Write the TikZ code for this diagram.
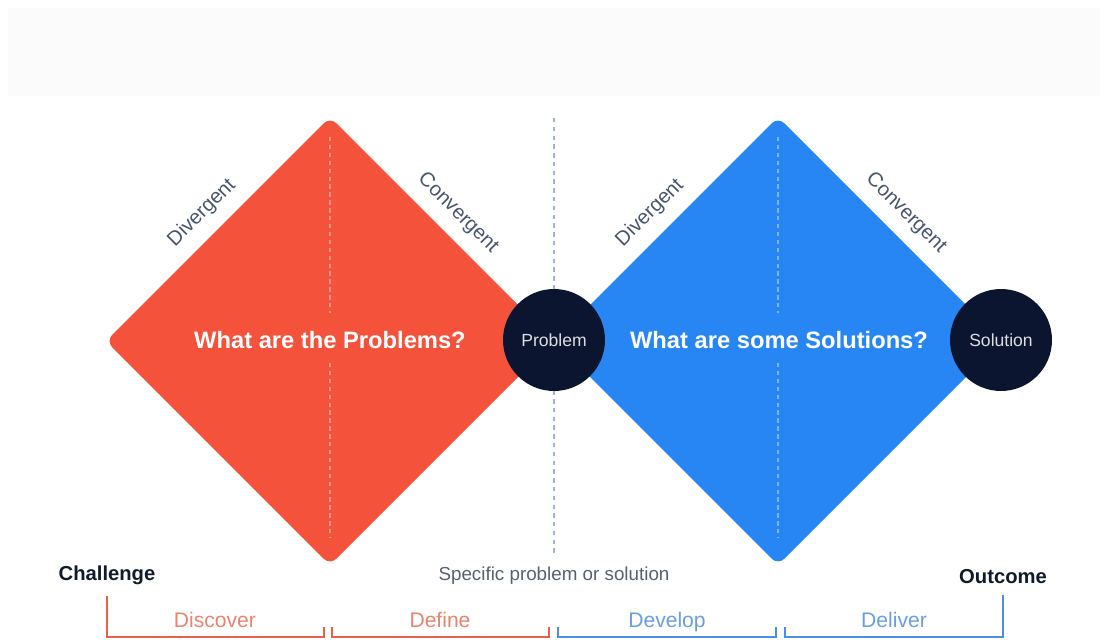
\documentclass[tikz,border=0pt]{standalone}
\usepackage{fontspec}
\setmainfont{Liberation Sans}
\usetikzlibrary{calc}
\definecolor{probred}{HTML}{F4523B}
\definecolor{solblue}{HTML}{2886F4}
\definecolor{hubnavy}{HTML}{0B1530}
\definecolor{edgetext}{HTML}{48546E}
\definecolor{guide}{HTML}{9DB3D3}
\definecolor{redline}{HTML}{E9614C}
\definecolor{blueline}{HTML}{4A8FE6}
\definecolor{redlabel}{HTML}{E8836F}
\definecolor{bluelabel}{HTML}{6A9EE2}
\definecolor{darktext}{HTML}{111A2C}
\definecolor{greytext}{HTML}{56606F}
\definecolor{band}{HTML}{FBFBFB}

\begin{document}
\begin{tikzpicture}[x=0.02cm,y=-0.02cm,
    hub/.style={circle,fill=hubnavy,minimum size=2.04cm,inner sep=0pt,text=white!86!hubnavy,font=\fontsize{10}{12}\selectfont},
    question/.style={text=white,font=\bfseries\fontsize{13.5}{16}\selectfont},
    phase/.style={sloped,above=4pt,text=edgetext,font=\fontsize{11.5}{13}\selectfont},
    milestone/.style={anchor=base,text=darktext,font=\bfseries\fontsize{11.5}{14}\selectfont},
    steplabel/.style={anchor=base,font=\fontsize{12}{14}\selectfont},
    bracket/.style={line width=1.2pt,line join=miter},
    inner/.style={white,opacity=.4,line width=.6pt,dash pattern=on 2.5pt off 2pt}]
  \useasboundingbox (0,0) rectangle (1106,642);
  \fill[band] (8,8) rectangle (1100,96);

  % corners of the two diamonds
  \coordinate (pT) at (330,117);
  \coordinate (pR) at (554,341);
  \coordinate (pB) at (330,565);
  \coordinate (pL) at (106,341);
  \coordinate (sT) at (778,117);
  \coordinate (sR) at (1002,341);
  \coordinate (sB) at (778,565);
  \coordinate (sL) at (554,341);

  % middle guide
  \draw[guide,line width=.6pt,dash pattern=on 2.5pt off 2.5pt] (554,118) -- (554,555);

  \fill[probred,rounded corners=5pt] (pT) -- (pR) -- (pB) -- (pL) -- cycle;
  \fill[solblue,rounded corners=5pt] (sT) -- (sR) -- (sB) -- (sL) -- cycle;
  \draw[inner] (330,137) -- (330,313) (330,363) -- (330,537);
  \draw[inner] (778,137) -- (778,313) (778,363) -- (778,537);

  \path (pL) -- node[phase] {Divergent} (pT);
  \path (pT) -- node[phase] {Convergent} (pR);
  \path (sL) -- node[phase] {Divergent} (sT);
  \path (sT) -- node[phase] {Convergent} (sR);

  \node[question] (qprob) at (330,340) {What are the Problems?};
  \node[question] (qsol) at (779,340) {What are some Solutions?};

  \node[hub] (problem) at (554,340) {Problem};
  \node[hub] (solution) at (1001,340) {Solution};

  % bottom line
  \node[milestone] (challenge) at (107,580) {Challenge};
  \node[milestone] (outcome) at (1003,583) {Outcome};
  \node[anchor=base,text=greytext,font=\fontsize{10.7}{13}\selectfont] (specific) at (554,580) {Specific problem or solution};

  \coordinate (disc) at (324,637);
  \coordinate (defl) at (332,627);
  \coordinate (defr) at (549,637);
  \coordinate (devl) at (558,627);
  \coordinate (devr) at (776,637);
  \coordinate (dell) at (785,627);
  \coordinate (delr) at (1003,637);

  \draw[redline,bracket] (challenge.south) ++(0,6) |- (disc) -- ++(0,-10);
  \draw[redline,bracket] (defl) |- (defr) -- ++(0,-10);
  \draw[blueline,bracket] (devl) |- (devr) -- ++(0,-10);
  \draw[blueline,bracket,shorten >=3pt] (dell) |- (delr) -- (outcome.south);

  \node[steplabel,text=redlabel] (discover) at (215,627) {Discover};
  \node[steplabel,text=redlabel] (define) at (440,627) {Define};
  \node[steplabel,text=bluelabel] (develop) at (667,627) {Develop};
  \node[steplabel,text=bluelabel] (deliver) at (894,627) {Deliver};
\end{tikzpicture}
\end{document}
